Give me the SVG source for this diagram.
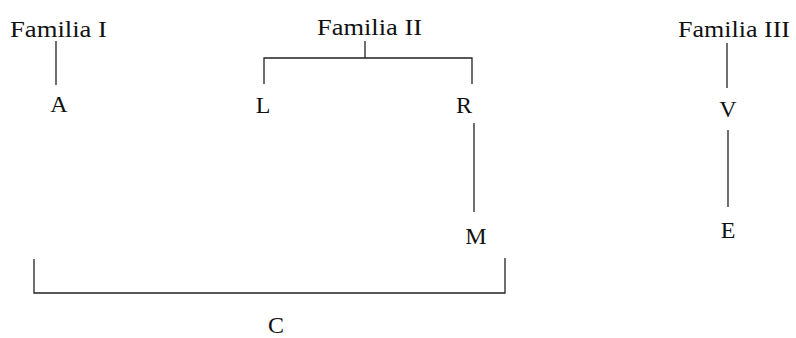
<svg xmlns="http://www.w3.org/2000/svg" width="796" height="338" viewBox="0 0 796 338">
<style>
text{font-family:"Liberation Serif","Times New Roman",serif;font-size:24px;fill:#111;}
.c{text-anchor:middle;}
.ln{stroke:#222;stroke-width:1.3;fill:none;}
</style>
<rect width="796" height="338" fill="#fff"/>
<g id="connectors">
<line class="ln" x1="56" y1="41" x2="56" y2="85"/>
<polyline class="ln" points="264,84 264,58 472,58 472,84"/>
<line class="ln" x1="365" y1="41" x2="365" y2="58"/>
<line class="ln" x1="474" y1="123" x2="474" y2="212"/>
<line class="ln" x1="727" y1="43" x2="727" y2="88"/>
<line class="ln" x1="728" y1="130" x2="728" y2="207"/>
<polyline class="ln" points="34,259 34,293 505,293 505,258"/>
</g>
<g id="familia1"><text x="10" y="37" textLength="97" lengthAdjust="spacingAndGlyphs">Familia I</text></g>
<g id="familia2"><text x="317" y="35" textLength="105" lengthAdjust="spacingAndGlyphs">Familia II</text></g>
<g id="familia3"><text x="678" y="37" textLength="112" lengthAdjust="spacingAndGlyphs">Familia III</text></g>
<g id="A"><text class="c" x="59" y="112">A</text></g>
<g id="L"><text class="c" x="263" y="113">L</text></g>
<g id="R"><text class="c" x="464" y="113">R</text></g>
<g id="M"><text class="c" x="476" y="244">M</text></g>
<g id="V"><text class="c" x="728" y="117">V</text></g>
<g id="E"><text class="c" x="728" y="238">E</text></g>
<g id="C"><text class="c" x="276" y="333">C</text></g>
</svg>
